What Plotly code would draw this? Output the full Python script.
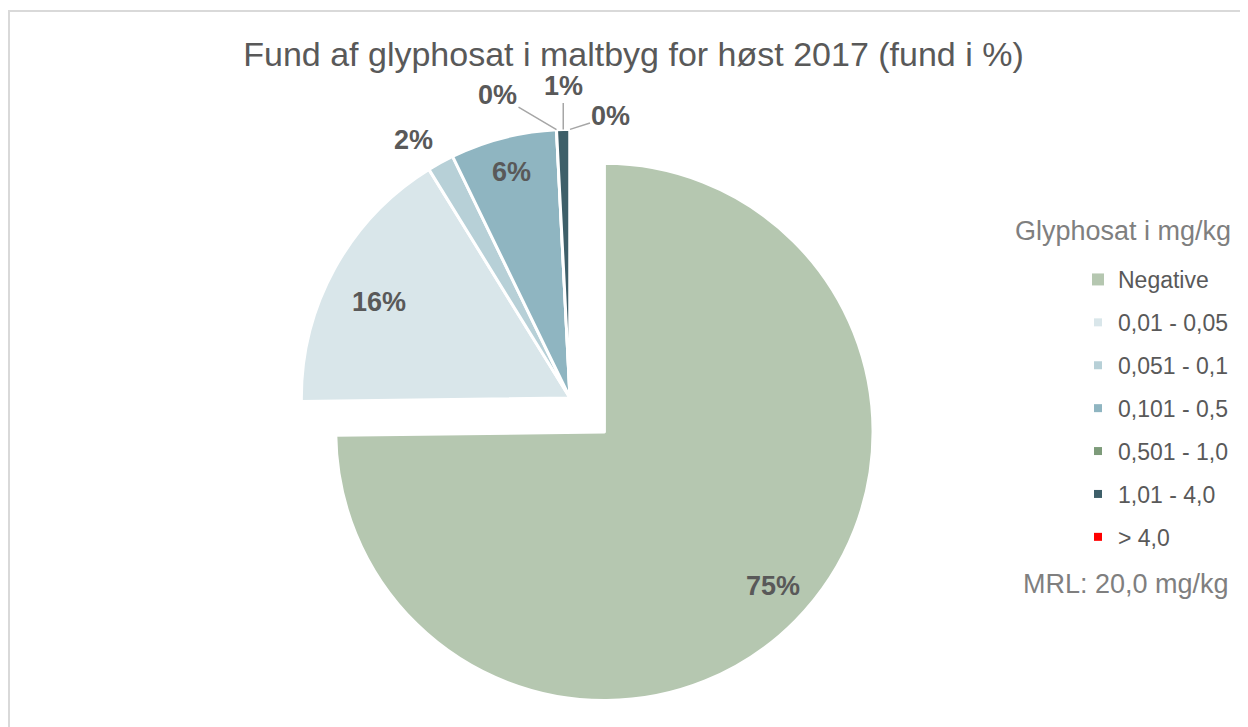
import math
import plotly.graph_objects as go

# ---- data ----
categories = ["Negative", "0,01 - 0,05", "0,051 - 0,1", "0,101 - 0,5",
              "0,501 - 1,0", "1,01 - 4,0", "> 4,0"]
shares = [74.8, 16.4, 1.6, 6.4, 0.0, 0.8, 0.0]          # fund i %
colors = ["#B5C7B0", "#D9E6EA", "#B7D0D7", "#8FB5C1", "#7D9B7A", "#3E5F69", "#FF0000"]
legend_marker_sizes = [12, 8, 8, 8, 8, 8, 8]
title_text = "Fund af glyphosat i maltbyg for høst 2017 (fund i %)"
legend_title = "Glyphosat i mg/kg"
note_text = "MRL: 20,0 mg/kg"

# ---- layout constants (page has an 8px body margin) ----
OFF = 8
W, H = 1248 - OFF, 727 - OFF


def px_x(px):
    return (px - OFF) / W


def px_y(py):
    return 1 - (py - OFF) / H


pull_main = 0.18
pie_cx, pie_cy, pie_box = 570, 398, 634          # page pixels of the un-pulled centre / box
dom_x = [px_x(pie_cx - pie_box / 2), px_x(pie_cx + pie_box / 2)]
dom_y = [px_y(pie_cy + pie_box / 2), px_y(pie_cy - pie_box / 2)]
label_color = "#595959"
font_family = "Liberation Sans, Arial, sans-serif"
label_radius = [0.85, 0.79, 1.13, 0.87, None, None, None]   # fraction of radius
label_nudge = {0: (6, -6), 1: (-5, 6), 2: (-10, 8)}          # px fine placement
leader_offsets = {4: (-59, -35), 5: (0, -43), 6: (41, -13)}   # px offsets of leader labels

fig = go.Figure()

fig.add_trace(go.Pie(
    labels=categories,
    values=shares,
    sort=False,
    direction="clockwise",
    rotation=0,
    pull=[pull_main] + [0] * (len(shares) - 1),
    marker=dict(colors=colors, line=dict(color="white", width=3)),
    textinfo="none",
    domain=dict(x=dom_x, y=dom_y),
    showlegend=False,
    hoverinfo="label+percent",
))

for name, col, sz in zip(categories, colors, legend_marker_sizes):
    fig.add_trace(go.Scatter(
        x=[None], y=[None], mode="markers", name=name,
        marker=dict(symbol="square", size=sz, color=col),
        legendgroup=name, showlegend=True, hoverinfo="skip",
    ))

# ---- data labels placed from the slice angles ----
cx = W * (dom_x[0] + dom_x[1]) / 2
cy = H * (1 - (dom_y[0] + dom_y[1]) / 2)
box = min(W * (dom_x[1] - dom_x[0]), H * (dom_y[1] - dom_y[0]))
r = box / (2 + 2 * pull_main)
total = sum(shares)
cum = 0
mids = []
for v in shares:
    mids.append((cum + v / 2) / total * 360)
    cum += v

label_font = dict(family=font_family, size=27, color=label_color, weight="bold")
annotations = []
for i, v in enumerate(shares):
    th = math.radians(mids[i])
    pull = pull_main if i == 0 else 0
    ox = cx + pull * r * math.sin(th)
    oy = cy - pull * r * math.cos(th)
    txt = f"{round(v / total * 100):.0f}%"
    if label_radius[i] is not None:
        k = label_radius[i]
        nx, ny = label_nudge.get(i, (0, 0))
        annotations.append(dict(
            x=(ox + k * r * math.sin(th) + nx) / W,
            y=1 - (oy - k * r * math.cos(th) + ny) / H,
            xref="paper", yref="paper", xanchor="center", yanchor="middle",
            showarrow=False, text=txt, font=label_font))
    else:
        dx, dy = leader_offsets[i]
        annotations.append(dict(
            x=(ox + r * math.sin(th)) / W, y=1 - (oy - r * math.cos(th)) / H,
            xref="paper", yref="paper", text=txt,
            showarrow=True, arrowhead=0, arrowwidth=1.5, arrowcolor="#A6A6A6",
            ax=dx, ay=dy, standoff=0, font=label_font))

annotations.append(dict(
    x=px_x(1233), y=px_y(231), xref="paper", yref="paper",
    xanchor="right", yanchor="middle", showarrow=False,
    text=legend_title, font=dict(family=font_family, size=27, color="#7F7F7F"),
))
annotations.append(dict(
    x=px_x(1231), y=px_y(584), xref="paper", yref="paper",
    xanchor="right", yanchor="middle", showarrow=False,
    text=note_text, font=dict(family=font_family, size=27, color="#7F7F7F"),
))

fig.update_layout(
    width=W, height=H,
    margin=dict(l=0, r=0, t=0, b=0, autoexpand=False),
    paper_bgcolor="white", plot_bgcolor="white",
    title=dict(text=title_text, x=px_x(633.5), xanchor="center",
               y=px_y(54), yanchor="middle",
               font=dict(family=font_family, size=34, color="#595959")),
    xaxis=dict(visible=False, automargin=False),
    yaxis=dict(visible=False, automargin=False),
    legend=dict(x=px_x(1078), xanchor="left", y=px_y(258), yanchor="top",
                font=dict(family=font_family, size=23, color="#595959"),
                bgcolor="rgba(0,0,0,0)", tracegroupgap=10, itemwidth=30),
    annotations=annotations,
    shapes=[dict(type="rect", xref="paper", yref="paper",
                 x0=px_x(9), x1=1.01, y0=-0.02, y1=px_y(11),
                 line=dict(color="#D9D9D9", width=2), fillcolor="rgba(0,0,0,0)",
                 layer="below")],
)

fig.write_html("out.html")
